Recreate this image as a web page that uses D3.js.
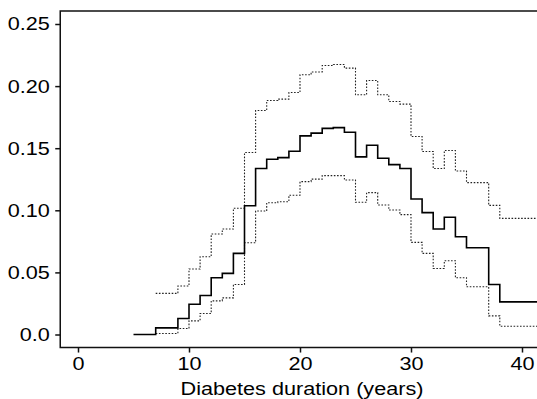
<!DOCTYPE html>
<html>
<head>
<meta charset="utf-8">
<script src="https://cdn.jsdelivr.net/npm/d3@7"></script>
<style>
  html, body { margin: 0; padding: 0; background: #fff; }
  svg { display: block; }
  text { font-family: "Liberation Sans", Arial, Helvetica, sans-serif; fill: #000; }
</style>
</head>
<body>
<svg id="chart" width="537" height="399"></svg>
<script>
// Cumulative incidence by diabetes duration (step estimate with confidence band)
const estYears = [5, 7, 9, 10, 11, 12, 13, 14, 15, 16, 17, 18, 19, 20, 21, 22, 23, 24, 25, 26, 27, 28, 29, 30, 31, 32, 33, 34, 35, 37, 38, 42];
const estimate = [0, 0.0053, 0.0129, 0.0244, 0.0314, 0.0457, 0.0492, 0.0653, 0.1037, 0.1336, 0.1411, 0.1424, 0.1476, 0.1599, 0.1621, 0.1660, 0.1666, 0.1629, 0.1430, 0.1524, 0.1419, 0.1368, 0.1336, 0.1091, 0.0981, 0.0849, 0.0944, 0.0787, 0.0698, 0.0403, 0.0263, 0.0263];

const bandYears = [7, 9, 10, 11, 12, 13, 14, 15, 16, 17, 18, 19, 20, 21, 22, 23, 24, 25, 26, 27, 28, 29, 30, 31, 32, 33, 34, 35, 37, 38, 42];
const upper = [0.0331, 0.0390, 0.0527, 0.0626, 0.0809, 0.0849, 0.1016, 0.1465, 0.1803, 0.1884, 0.1895, 0.1948, 0.2091, 0.2114, 0.2166, 0.2174, 0.2145, 0.1930, 0.2045, 0.1930, 0.1876, 0.1855, 0.1594, 0.1473, 0.1336, 0.1481, 0.1317, 0.1223, 0.1040, 0.0935, 0.0935];
const lower = [0.0008, 0.0048, 0.0110, 0.0169, 0.0271, 0.0295, 0.0403, 0.0739, 0.0994, 0.1061, 0.1069, 0.1121, 0.1231, 0.1251, 0.1279, 0.1279, 0.1244, 0.1065, 0.1142, 0.1043, 0.1002, 0.0965, 0.0742, 0.0653, 0.0532, 0.0594, 0.0457, 0.0384, 0.0150, 0.0067, 0.0067];

const xTicks = [0, 10, 20, 30, 40];
const yTicks = [0, 0.05, 0.10, 0.15, 0.20, 0.25];
const yTickLabels = ["0.0", "0.05", "0.10", "0.15", "0.20", "0.25"];
const xTitle = "Diabetes duration (years)";

const svg = d3.select("#chart");
const stretch = 1.17;   // horizontal glyph stretch of the labels
const fontSize = 18.5;

const x = d3.scaleLinear().domain([0, 40]).range([78, 522]);
const y = d3.scaleLinear().domain([0, 0.25]).range([334.5, 24]);

const xMin = -1.6, xMax = 41.6, yMin = -0.0105, yMax = 0.2605;
const plotLeft = x(xMin), plotRight = x(xMax), plotTop = y(yMax), plotBottom = y(yMin);

// clip for the plotting region
svg.append("defs").append("clipPath").attr("id", "plotclip")
  .append("rect").attr("x", plotLeft).attr("y", plotTop)
  .attr("width", plotRight - plotLeft).attr("height", plotBottom - plotTop);

const line = d3.line()
  .x(d => x(d[0]))
  .y(d => y(d[1]))
  .curve(d3.curveStepAfter);

const plot = svg.append("g").attr("clip-path", "url(#plotclip)");

plot.append("path")
  .datum(bandYears.map((t, i) => [t, upper[i]]))
  .attr("d", line)
  .attr("fill", "none").attr("stroke", "#222").attr("stroke-width", 1.1)
  .attr("stroke-dasharray", "1.6,1.6");

plot.append("path")
  .datum(bandYears.map((t, i) => [t, lower[i]]))
  .attr("d", line)
  .attr("fill", "none").attr("stroke", "#222").attr("stroke-width", 1.1)
  .attr("stroke-dasharray", "1.6,1.6");

plot.append("path")
  .datum(estYears.map((t, i) => [t, estimate[i]]))
  .attr("d", line)
  .attr("fill", "none").attr("stroke", "#000").attr("stroke-width", 1.6);

// frame: left, top and bottom edges
svg.append("path")
  .attr("d", `M${plotRight},${plotTop}H${plotLeft}V${plotBottom}H${plotRight}`)
  .attr("fill", "none").attr("stroke", "#111").attr("stroke-width", 1.5);

// x axis
const gx = svg.append("g").attr("transform", `translate(0,${plotBottom})`)
  .call(d3.axisBottom(x).tickValues(xTicks).tickFormat(d3.format("d")).tickSize(5).tickPadding(4));
gx.select(".domain").remove();
gx.selectAll(".tick line").attr("stroke", "#111").attr("stroke-width", 1.5);
gx.selectAll(".tick text")
  .attr("font-size", fontSize).attr("font-family", null)
  .attr("transform", `scale(${stretch},1)`);

// y axis
const gy = svg.append("g").attr("transform", `translate(${plotLeft},0)`)
  .call(d3.axisLeft(y).tickValues(yTicks).tickFormat((d, i) => yTickLabels[i]).tickSize(5));
gy.select(".domain").remove();
gy.selectAll(".tick line").attr("stroke", "#111").attr("stroke-width", 1.5);
gy.selectAll(".tick text")
  .attr("font-size", fontSize).attr("font-family", null)
  .attr("x", -10.5 / stretch)
  .attr("transform", `scale(${stretch},1)`);

// axis title
svg.append("text")
  .attr("transform", `translate(${(x(0) + x(40)) / 2 + 2},395) scale(${stretch},1)`)
  .attr("text-anchor", "middle")
  .attr("font-size", fontSize)
  .text(xTitle);
</script>
</body>
</html>
